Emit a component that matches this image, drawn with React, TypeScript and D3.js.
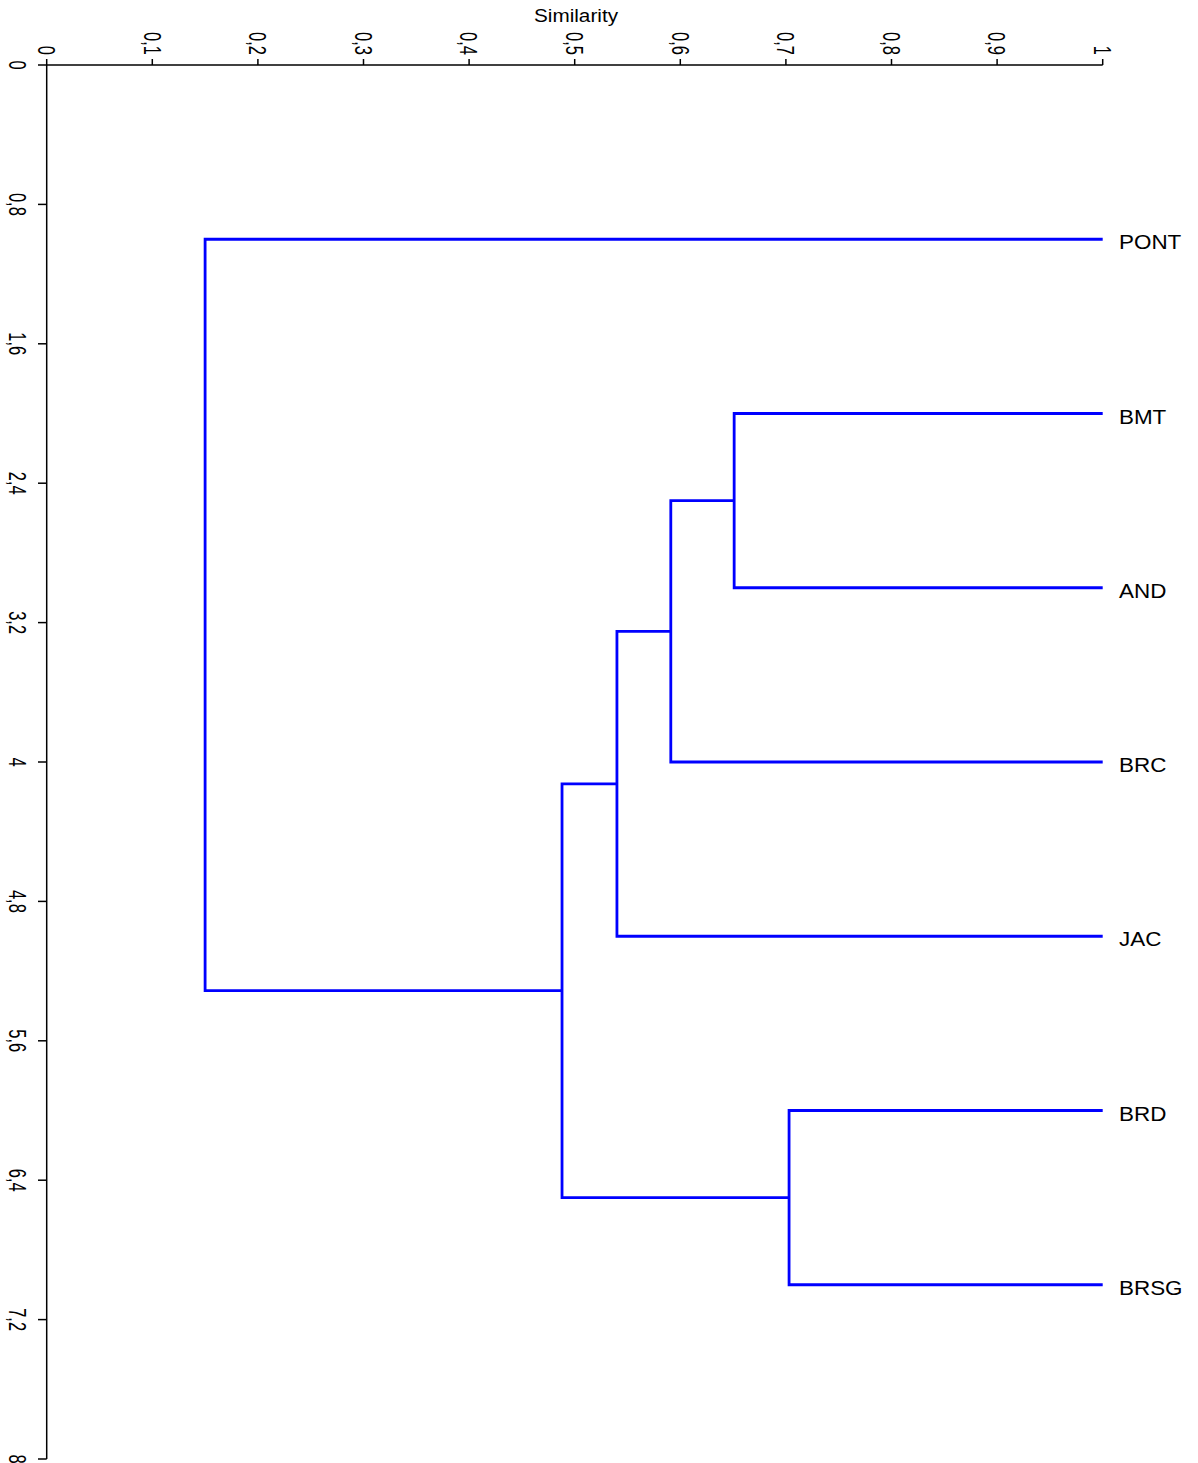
import React, { useEffect, useRef } from 'react'
import * as d3 from 'd3'

// leaves, top to bottom
const leafNames = ['PONT', 'BMT', 'AND', 'BRC', 'JAC', 'BRD', 'BRSG']
const leafPos = [1, 2, 3, 4, 5, 6, 7]

// merges in order; ids 0-6 are leaves, merge k becomes node 7+k
const mergeLeft = [1, 7, 8, 5, 9, 0]
const mergeRight = [2, 3, 4, 6, 10, 11]
const mergeSim = [0.651, 0.591, 0.540, 0.703, 0.488, 0.150]

const xTicks = [0, 0.1, 0.2, 0.3, 0.4, 0.5, 0.6, 0.7, 0.8, 0.9, 1]
const yTicks = [0, 0.8, 1.6, 2.4, 3.2, 4, 4.8, 5.6, 6.4, 7.2, 8]

const W = 1198
const H = 1463

function App() {
  const ref = useRef(null)

  useEffect(() => {
    const svg = d3.select(ref.current)
    svg.selectAll('*').remove()

    const x = d3.scaleLinear().domain([0, 1]).range([46.7, 1102.7])
    const y = d3.scaleLinear().domain([0, 8]).range([65, 1459])
    const fmt = (d) => String(d).replace('.', ',')
    const font = 'Liberation Sans, Arial, sans-serif'

    // node positions: leaves at sim 1, merges centred between children
    const nodeY = leafPos.slice()
    const nodeX = leafPos.map(() => 1)
    mergeSim.forEach((s, i) => {
      nodeY.push((nodeY[mergeLeft[i]] + nodeY[mergeRight[i]]) / 2)
      nodeX.push(s)
    })

    const g = svg.append('g')
    mergeSim.forEach((sim, i) => {
      const a = mergeLeft[i], b = mergeRight[i]
      const p = d3.path()
      p.moveTo(x(nodeX[a]), y(nodeY[a]))
      p.lineTo(x(sim), y(nodeY[a]))
      p.lineTo(x(sim), y(nodeY[b]))
      p.lineTo(x(nodeX[b]), y(nodeY[b]))
      g.append('path')
        .attr('d', p.toString())
        .style('fill', 'none')
        .style('stroke', '#0000ff')
        .style('stroke-width', 2.8)
    })

    // leaf labels
    leafNames.forEach((name, i) => {
      svg.append('text')
        .text(name)
        .attr('transform', `translate(1119,${y(leafPos[i]) + 3}) scale(1.15,1)`)
        .attr('dy', '0.36em')
        .style('font-family', font)
        .style('font-size', '19.5px')
        .style('fill', '#000')
    })

    // top axis
    svg.append('line')
      .attr('x1', x(0)).attr('x2', x(1))
      .attr('y1', 65).attr('y2', 65)
      .style('stroke', '#000').style('stroke-width', 1.5)
    xTicks.forEach((t) => {
      svg.append('line')
        .attr('x1', x(t)).attr('x2', x(t))
        .attr('y1', 65).attr('y2', 59)
        .style('stroke', '#000').style('stroke-width', 1.5)
      svg.append('text')
        .text(fmt(t))
        .attr('transform', `translate(${x(t)},55) rotate(90) scale(1,1.45)`)
        .attr('text-anchor', 'end')
        .attr('dy', '0.36em')
        .style('font-family', font)
        .style('font-size', '16.5px')
        .style('fill', '#000')
    })
    svg.append('text')
      .text('Similarity')
      .attr('transform', `translate(576,22) scale(1.12,1)`)
      .attr('text-anchor', 'middle')
      .style('font-family', font)
      .style('font-size', '18.5px')
      .style('fill', '#000')

    // left axis
    svg.append('line')
      .attr('x1', 46.7).attr('x2', 46.7)
      .attr('y1', y(0)).attr('y2', y(8))
      .style('stroke', '#000').style('stroke-width', 1.5)
    yTicks.forEach((t) => {
      svg.append('line')
        .attr('x1', 38).attr('x2', 46.7)
        .attr('y1', y(t)).attr('y2', y(t))
        .style('stroke', '#000').style('stroke-width', 1.5)
      svg.append('text')
        .text(fmt(t))
        .attr('transform', `translate(18,${y(t)}) rotate(90) scale(1,1.45)`)
        .attr('text-anchor', 'middle')
        .attr('dy', '0.36em')
        .style('font-family', font)
        .style('font-size', '16.5px')
        .style('fill', '#000')
    })
  }, [])

  return (
    <svg
      ref={ref}
      width={W}
      height={H}
      style={{ position: 'absolute', left: 0, top: 0, background: '#fff' }}
    />
  )
}

export default App
